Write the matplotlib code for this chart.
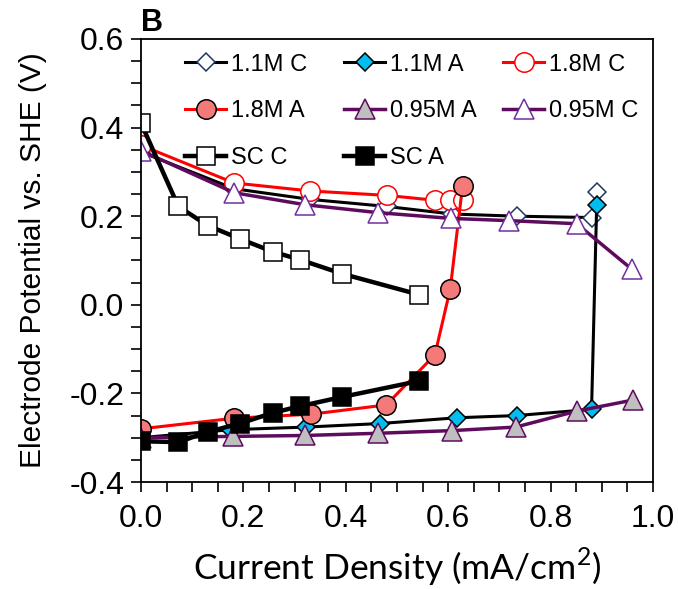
import matplotlib
matplotlib.use("Agg")
import matplotlib.pyplot as plt
from matplotlib.ticker import MultipleLocator

# ---- data (current density mA/cm2, potential V vs SHE) ----
x_11C = [0.0, 0.182, 0.33, 0.48, 0.607, 0.734, 0.88, 0.89]
y_11C = [0.345, 0.262, 0.238, 0.222, 0.205, 0.200, 0.197, 0.255]

x_11A = [0.0, 0.175, 0.323, 0.467, 0.617, 0.734, 0.88, 0.89]
y_11A = [-0.300, -0.282, -0.276, -0.268, -0.255, -0.250, -0.236, 0.226]

x_18C = [0.0, 0.182, 0.33, 0.48, 0.574, 0.603, 0.629]
y_18C = [0.360, 0.275, 0.257, 0.247, 0.236, 0.236, 0.236]

x_18A = [0.0, 0.182, 0.332, 0.479, 0.574, 0.604, 0.628]
y_18A = [-0.280, -0.256, -0.247, -0.226, -0.113, 0.036, 0.268]

x_095A = [0.0, 0.180, 0.320, 0.463, 0.607, 0.732, 0.851, 0.961]
y_095A = [-0.300, -0.297, -0.295, -0.290, -0.284, -0.276, -0.240, -0.215]

x_095C = [0.0, 0.182, 0.320, 0.463, 0.605, 0.719, 0.851, 0.959]
y_095C = [0.348, 0.253, 0.226, 0.208, 0.195, 0.190, 0.183, 0.080]

x_SCC = [0.0, 0.073, 0.130, 0.193, 0.257, 0.310, 0.393, 0.543]
y_SCC = [0.410, 0.222, 0.179, 0.149, 0.120, 0.102, 0.070, 0.023]

x_SCA = [0.0, 0.073, 0.130, 0.193, 0.257, 0.310, 0.393, 0.543]
y_SCA = [-0.308, -0.310, -0.287, -0.268, -0.244, -0.229, -0.208, -0.172]

xticks = [0.0, 0.2, 0.4, 0.6, 0.8, 1.0]
xticklabels = ['0.0', '0.2', '0.4', '0.6', '0.8', '1.0']
yticks = [-0.4, -0.2, 0.0, 0.2, 0.4, 0.6]
yticklabels = ['-0.4', '-0.2', '0.0', '0.2', '0.4', '0.6']

xlabel = "Current Density (mA/cm$^{2}$)"
ylabel = "Electrode Potential vs. SHE (V)"

plt.rcParams['font.family'] = ['Liberation Sans', 'DejaVu Sans']
plt.rcParams['mathtext.fontset'] = 'custom'
plt.rcParams['mathtext.rm'] = 'Lato'

fig = plt.figure(figsize=(6.78, 5.89), dpi=100)
ax = fig.add_axes([141/678, 1-482/589, 512/678, 443/589])

ms_lw = 1.1
h = {}
h['1.1M C'], = ax.plot(x_11C, y_11C, color='black', lw=2.2, marker='D', ms=9.5,
                       mfc='white', mec='#1F3864', mew=ms_lw, label='1.1M C')
h['1.1M A'], = ax.plot(x_11A, y_11A, color='black', lw=2.2, marker='D', ms=9.5,
                       mfc='#00BFF0', mec='black', mew=ms_lw, label='1.1M A')
h['1.8M C'], = ax.plot(x_18C, y_18C, color='#FF0000', lw=2.2, marker='o', ms=14,
                       mfc='white', mec='#FF0000', mew=ms_lw, label='1.8M C')
h['1.8M A'], = ax.plot(x_18A, y_18A, color='#FF0000', lw=2.2, marker='o', ms=14,
                       mfc='#F47A7A', mec='black', mew=ms_lw, label='1.8M A')
h['0.95M A'], = ax.plot(x_095A, y_095A, color='#5E0B5E', lw=2.5, marker='^', ms=15,
                        mfc='#BFBFBF', mec='#5E0B5E', mew=ms_lw, label='0.95M A')
h['0.95M C'], = ax.plot(x_095C, y_095C, color='#5E0B5E', lw=2.5, marker='^', ms=15,
                        mfc='white', mec='#7030A0', mew=ms_lw, label='0.95M C')
h['SC C'], = ax.plot(x_SCC, y_SCC, color='black', lw=3.2, marker='s', ms=13,
                     mfc='white', mec='black', mew=ms_lw, label='SC C')
h['SC A'], = ax.plot(x_SCA, y_SCA, color='black', lw=3.2, marker='s', ms=13,
                     mfc='black', mec='black', mew=ms_lw, label='SC A')

ax.set_xlim(0.0, 1.0)
ax.set_ylim(-0.4, 0.6)
ax.xaxis.set_minor_locator(MultipleLocator(0.05))
ax.yaxis.set_minor_locator(MultipleLocator(0.05))
ax.set_xticks(xticks)
ax.set_xticklabels(xticklabels)
ax.set_yticks(yticks)
ax.set_yticklabels(yticklabels)
ax.tick_params(which='both', direction='out', length=7, width=1.2, labelsize=23)
ax.tick_params(axis='x', pad=9)
ax.tick_params(axis='y', pad=5)
for s in ax.spines.values():
    s.set_linewidth(1.3)

ax.set_xlabel(xlabel, fontsize=25.5, family=['Lato', 'DejaVu Sans'], labelpad=8)
ax.set_ylabel(ylabel, fontsize=21.5, labelpad=16)

# legend laid out as a 3-column grid with fixed column positions
columns = [['1.1M C', '1.8M A', 'SC C'],
           ['1.1M A', '0.95M A', 'SC A'],
           ['1.8M C', '0.95M C']]
col_x = [(185 - 141) / 512, (344 - 141) / 512, (503 - 141) / 512]
legs = []
for names, xa in zip(columns, col_x):
    leg = ax.legend([h[k] for k in names], names, frameon=False, fontsize=17,
                    loc='upper left', bbox_to_anchor=(xa, 0.967), handlelength=1.75,
                    handletextpad=0.2, labelspacing=1.05, borderpad=0.0,
                    borderaxespad=0.0)
    legs.append(leg)
for leg in legs[:-1]:
    ax.add_artist(leg)

fig.text(141/678, 1-31/589, "B", fontsize=22, fontweight='bold', ha='left', va='baseline')

fig.savefig("out.png", dpi=100)
